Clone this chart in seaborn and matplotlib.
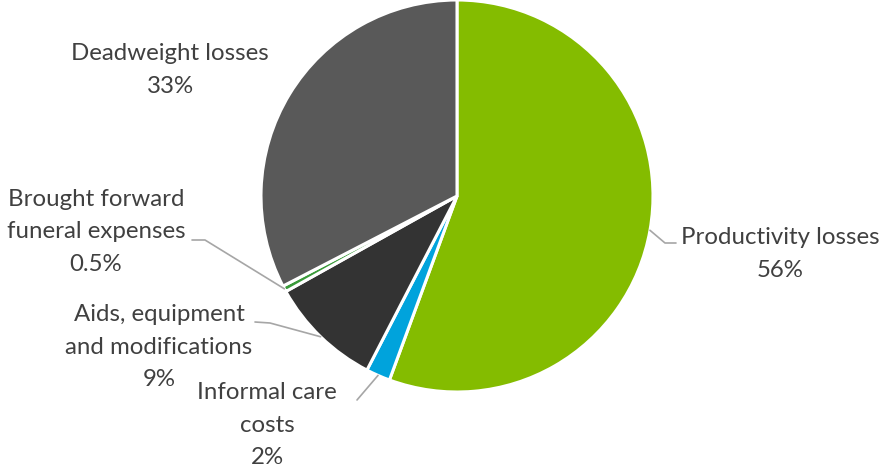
import numpy as np
import matplotlib
matplotlib.use("Agg")
import matplotlib.pyplot as plt
import seaborn as sns

categories = ["Productivity losses", "Informal care\ncosts", "Aids, equipment\nand modifications",
              "Brought forward\nfuneral expenses", "Deadweight losses"]
values = [55.6, 2.0, 9.3, 0.5, 32.6]
pct_labels = ["56%", "2%", "9%", "0.5%", "33%"]
colors = ["#84BC00", "#00A3DC", "#333333", "#3A9A3A", "#595959"]

sns.set_theme(style="white")
plt.rcParams['font.family'] = ['Lato', 'DejaVu Sans']

W, H = 880, 468
fig = plt.figure(figsize=(W / 100, H / 100), dpi=100)
cx, cy, R = 457, 196, 196
ax = fig.add_axes([(cx - R) / W, (H - cy - R) / H, 2 * R / W, 2 * R / H])
wedges, _ = ax.pie(values, colors=colors, startangle=90, counterclock=False, radius=1,
                   wedgeprops=dict(edgecolor="white", linewidth=2.2))
ax.set_xlim(-1, 1)
ax.set_ylim(-1, 1)
ax.set_aspect("equal")
ax.axis("off")


def d(px, py):
    return ((px - cx) / R, (cy - py) / R)


txtc = "#404040"
lc = "#A6A6A6"
fs = 17.3

# label layout (pixel positions): text centre and leader elbow points
layout = {
    0: dict(text=(780, 254), elbow=[(665, 243), (676, 243)]),
    1: dict(text=(267, 425), elbow=[(357, 400)]),
    2: dict(text=(159, 347), elbow=[(270, 323), (255, 322)]),
    3: dict(text=(96, 232), elbow=[(205, 240), (192, 240)]),
    4: dict(text=(170, 70), elbow=None),
}

for i, w in enumerate(wedges):
    mid = np.deg2rad((w.theta1 + w.theta2) / 2)
    ax_, ay_ = np.cos(mid), np.sin(mid)
    L = layout[i]
    if L["elbow"]:
        pts = [(ax_, ay_)] + [d(*p) for p in L["elbow"]]
        xs, ys = zip(*pts)
        ax.plot(xs, ys, color=lc, lw=1.2, clip_on=False)
    tx, ty = d(*L["text"])
    ax.text(tx, ty, categories[i] + "\n" + pct_labels[i], ha="center", va="center",
            color=txtc, fontsize=fs, linespacing=1.68, clip_on=False)

fig.savefig("out.png", dpi=100, facecolor="white")
